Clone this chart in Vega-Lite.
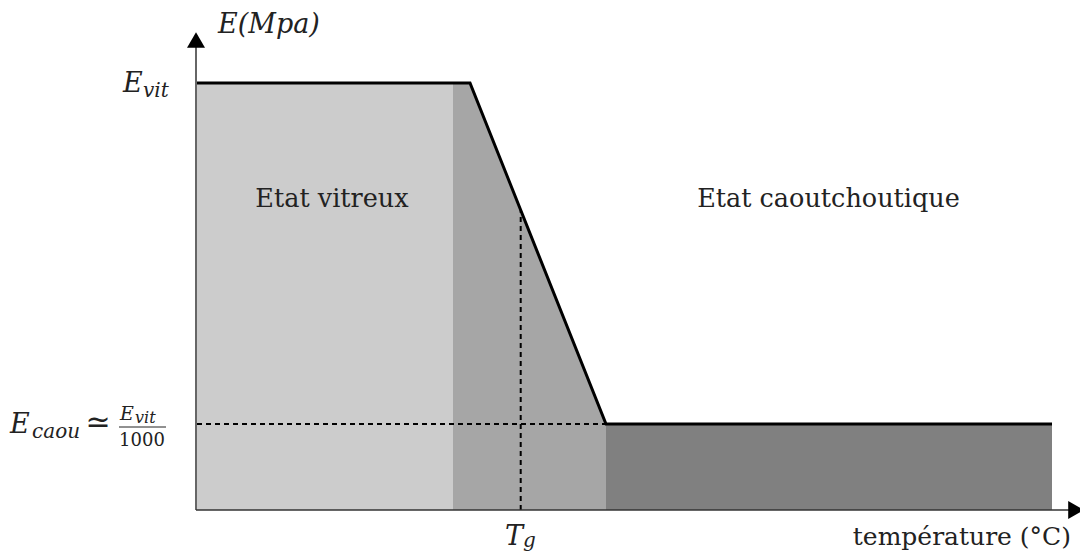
{
  "$schema": "https://vega.github.io/schema/vega-lite/v6.json",
  "width": 883,
  "height": 480,
  "autosize": {"type": "none"},
  "padding": {"left": 197, "top": 30, "right": 0, "bottom": 45},
  "background": "white",
  "config": {"view": {"stroke": null}, "text": {"font": "DejaVu Serif"}},
  "datasets": {
    "regions": [
      {"region": "vitreux", "x": 0, "x2": 256, "y": 0, "y2": 427},
      {"region": "caoutchoutique", "x": 409, "x2": 855, "y": 0, "y2": 86}
    ],
    "transition": [
      {"x": 256, "y": 427},
      {"x": 273, "y": 427},
      {"x": 409, "y": 86}
    ],
    "curve": [
      {"x": 0, "y": 427},
      {"x": 273, "y": 427},
      {"x": 409, "y": 86},
      {"x": 855, "y": 86}
    ],
    "dashes": [
      {"x": 0, "x2": 409, "y": 86, "y2": 86},
      {"x": 323.7, "x2": 323.7, "y": 0, "y2": 300}
    ],
    "axes": [
      {"x": -1, "x2": -1, "y": 0, "y2": 466},
      {"x": -1, "x2": 872, "y": 0, "y2": 0}
    ],
    "fracbar": [
      {"x": -78, "x2": -31, "y": 83}
    ],
    "arrows": [
      {"dir": "up", "x": -1, "y": 470},
      {"dir": "right", "x": 879, "y": 0}
    ],
    "labels": [
      {"text": "Etat vitreux", "x": 135, "y": 303},
      {"text": "Etat caoutchoutique", "x": 631.5, "y": 303}
    ],
    "labelsRight": [
      {"text": "température (°C)", "x": 874, "y": -35}
    ],
    "symbols": [
      {"text": "≃", "x": -99, "y": 78}
    ],
    "smallUpright": [
      {"text": "1000", "x": -55, "y": 64}
    ],
    "mathBig": [
      {"text": "E(Mpa)", "x": 21, "y": 477},
      {"text": "E", "x": -74, "y": 418},
      {"text": "E", "x": -187, "y": 77},
      {"text": "T", "x": 308, "y": -35}
    ],
    "mathSub": [
      {"text": "vit", "x": -54, "y": 413},
      {"text": "caou", "x": -165, "y": 72},
      {"text": "g", "x": 326, "y": -37}
    ],
    "mathNum": [
      {"text": "E", "x": -77, "y": 90}
    ],
    "mathNumSub": [
      {"text": "vit", "x": -62, "y": 87}
    ]
  },
  "layer": [
    {
      "data": {"name": "regions"},
      "mark": {"type": "rect"},
      "encoding": {
        "x": {"field": "x", "type": "quantitative", "scale": {"domain": [0, 883], "nice": false, "zero": false}, "axis": null},
        "x2": {"field": "x2"},
        "y": {"field": "y", "type": "quantitative", "scale": {"domain": [0, 480], "nice": false, "zero": false}, "axis": null},
        "y2": {"field": "y2"},
        "color": {"field": "region", "type": "nominal", "scale": {"domain": ["vitreux", "caoutchoutique"], "range": ["#cccccc", "#808080"]}, "legend": null}
      }
    },
    {
      "data": {"name": "transition"},
      "mark": {"type": "area", "color": "#a6a6a6", "opacity": 1},
      "encoding": {
        "x": {"field": "x", "type": "quantitative"},
        "y": {"field": "y", "type": "quantitative"},
        "y2": {"datum": 0}
      }
    },
    {
      "data": {"name": "dashes"},
      "mark": {"type": "rule", "color": "black", "strokeWidth": 2, "strokeDash": [5, 4]},
      "encoding": {
        "x": {"field": "x", "type": "quantitative"},
        "x2": {"field": "x2"},
        "y": {"field": "y", "type": "quantitative"},
        "y2": {"field": "y2"}
      }
    },
    {
      "data": {"name": "curve"},
      "mark": {"type": "line", "color": "black", "strokeWidth": 3, "strokeJoin": "miter"},
      "encoding": {
        "x": {"field": "x", "type": "quantitative"},
        "y": {"field": "y", "type": "quantitative"}
      }
    },
    {
      "data": {"name": "axes"},
      "mark": {"type": "rule", "color": "#333333", "strokeWidth": 1.5},
      "encoding": {
        "x": {"field": "x", "type": "quantitative"},
        "x2": {"field": "x2"},
        "y": {"field": "y", "type": "quantitative"},
        "y2": {"field": "y2"}
      }
    },
    {
      "data": {"name": "fracbar"},
      "mark": {"type": "rule", "color": "#222222", "strokeWidth": 1},
      "encoding": {
        "x": {"field": "x", "type": "quantitative"},
        "x2": {"field": "x2"},
        "y": {"field": "y", "type": "quantitative"}
      }
    },
    {
      "data": {"name": "arrows"},
      "mark": {"type": "point", "filled": true, "color": "black", "opacity": 1, "size": 324, "strokeWidth": 0},
      "encoding": {
        "x": {"field": "x", "type": "quantitative"},
        "y": {"field": "y", "type": "quantitative"},
        "shape": {"field": "dir", "type": "nominal", "scale": {"domain": ["up", "right"], "range": ["triangle-up", "triangle-right"]}, "legend": null}
      }
    },
    {
      "data": {"name": "labels"},
      "mark": {"type": "text", "fontSize": 25.5, "color": "#222222", "align": "center", "baseline": "alphabetic"},
      "encoding": {
        "x": {"field": "x", "type": "quantitative"},
        "y": {"field": "y", "type": "quantitative"},
        "text": {"field": "text"}
      }
    },
    {
      "data": {"name": "labelsRight"},
      "mark": {"type": "text", "fontSize": 25, "color": "#222222", "align": "right", "baseline": "alphabetic"},
      "encoding": {
        "x": {"field": "x", "type": "quantitative"},
        "y": {"field": "y", "type": "quantitative"},
        "text": {"field": "text"}
      }
    },
    {
      "data": {"name": "symbols"},
      "mark": {"type": "text", "fontSize": 30, "color": "#222222", "align": "center", "baseline": "alphabetic"},
      "encoding": {
        "x": {"field": "x", "type": "quantitative"},
        "y": {"field": "y", "type": "quantitative"},
        "text": {"field": "text"}
      }
    },
    {
      "data": {"name": "smallUpright"},
      "mark": {"type": "text", "fontSize": 18, "color": "#222222", "align": "center", "baseline": "alphabetic"},
      "encoding": {
        "x": {"field": "x", "type": "quantitative"},
        "y": {"field": "y", "type": "quantitative"},
        "text": {"field": "text"}
      }
    },
    {
      "data": {"name": "mathBig"},
      "mark": {"type": "text", "fontStyle": "italic", "fontSize": 27, "color": "#222222", "align": "left", "baseline": "alphabetic"},
      "encoding": {
        "x": {"field": "x", "type": "quantitative"},
        "y": {"field": "y", "type": "quantitative"},
        "text": {"field": "text"}
      }
    },
    {
      "data": {"name": "mathSub"},
      "mark": {"type": "text", "fontStyle": "italic", "fontSize": 20, "color": "#222222", "align": "left", "baseline": "alphabetic"},
      "encoding": {
        "x": {"field": "x", "type": "quantitative"},
        "y": {"field": "y", "type": "quantitative"},
        "text": {"field": "text"}
      }
    },
    {
      "data": {"name": "mathNum"},
      "mark": {"type": "text", "fontStyle": "italic", "fontSize": 19, "color": "#222222", "align": "left", "baseline": "alphabetic"},
      "encoding": {
        "x": {"field": "x", "type": "quantitative"},
        "y": {"field": "y", "type": "quantitative"},
        "text": {"field": "text"}
      }
    },
    {
      "data": {"name": "mathNumSub"},
      "mark": {"type": "text", "fontStyle": "italic", "fontSize": 16, "color": "#222222", "align": "left", "baseline": "alphabetic"},
      "encoding": {
        "x": {"field": "x", "type": "quantitative"},
        "y": {"field": "y", "type": "quantitative"},
        "text": {"field": "text"}
      }
    }
  ]
}
